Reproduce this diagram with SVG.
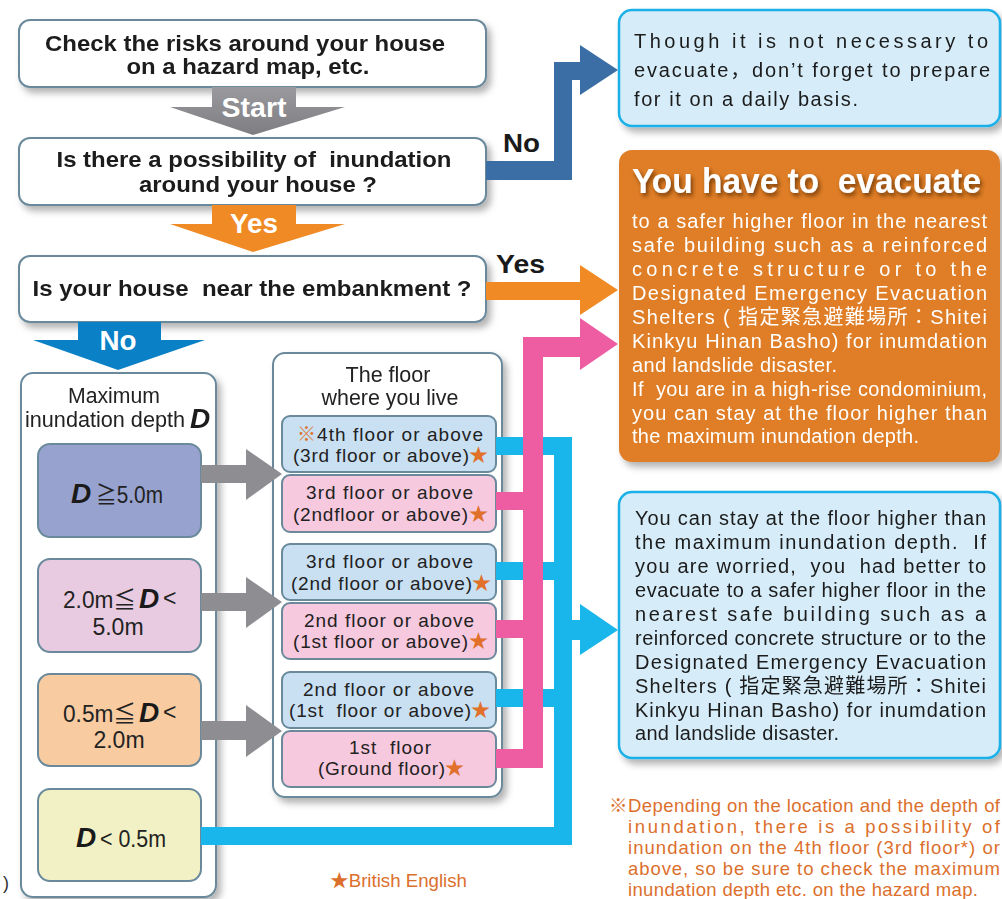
<svg xmlns="http://www.w3.org/2000/svg" width="1002" height="899" viewBox="0 0 1002 899">
<style>
text{font-family:"Liberation Sans","Noto Sans CJK JP",sans-serif;white-space:pre;}
.box{fill:#fff;stroke:#6a8a9c;stroke-width:2;}
.q{font-size:22px;font-weight:bold;fill:#1a1a1a;}
.lbl{font-size:26px;font-weight:bold;fill:#1a1a1a;}
.arrtxt{font-size:28px;font-weight:bold;fill:#fff;}
.fl{font-size:19px;fill:#222;}
.fb{fill:#c9e0f3;stroke:#6a8a9c;stroke-width:2;}
.fp{fill:#f7c9de;stroke:#6a8a9c;stroke-width:2;}
.dtx{font-size:22px;fill:#222;}
.dv{font-size:23px;fill:#222;}
.dd{font-size:28px;font-weight:bold;font-style:italic;fill:#1a1a1a;}
.star{fill:#e0702a;}
.bt{font-size:20px;fill:#1a1a1a;}
.wt{font-size:20px;fill:#fff;}
.note{font-size:18.5px;fill:#dc6f2c;}
.gray{fill:#8d8d92;}
.cy{fill:#18b6ea;}
.pk{fill:#ee5ca2;}
</style>
<defs>
<filter id="sh" x="-10%" y="-10%" width="130%" height="140%">
<feDropShadow dx="4" dy="5" stdDeviation="3.5" flood-color="#000" flood-opacity="0.3"/>
</filter>
<filter id="tsh" filterUnits="userSpaceOnUse" x="620" y="150" width="380" height="60">
<feDropShadow dx="2" dy="3" stdDeviation="2" flood-color="#5a2a00" flood-opacity="0.8"/>
</filter>
<linearGradient id="gStart" x1="0" y1="0" x2="0" y2="1">
<stop offset="0" stop-color="#9a9a9e"/><stop offset="1" stop-color="#7d7d82"/>
</linearGradient>
</defs>

<!-- main flow boxes -->
<g id="n-check" filter="url(#sh)">
<rect class="box" x="19" y="20" width="467" height="67" rx="11"/>
<text class="q" x="245" y="51" text-anchor="middle" textLength="400" lengthAdjust="spacingAndGlyphs">Check the risks around your house</text>
<text class="q" x="248" y="74" text-anchor="middle" textLength="243" lengthAdjust="spacingAndGlyphs">on a hazard map, etc.</text>
</g>
<g id="n-possibility" filter="url(#sh)">
<rect class="box" x="19" y="138" width="467" height="67" rx="11"/>
<text class="q" x="254" y="167" text-anchor="middle" textLength="395" lengthAdjust="spacingAndGlyphs">Is there a possibility of  inundation</text>
<text class="q" x="258" y="192" text-anchor="middle" textLength="238" lengthAdjust="spacingAndGlyphs">around your house ?</text>
</g>
<g id="n-embankment" filter="url(#sh)">
<rect class="box" x="19" y="256" width="467" height="66" rx="11"/>
<text class="q" x="252" y="296" text-anchor="middle" textLength="439" lengthAdjust="spacingAndGlyphs">Is your house  near the embankment ?</text>
</g>

<!-- big down arrows -->
<g id="a-start">
<polygon fill="url(#gStart)" points="212,87 296,87 296,107 345,107 253,135 170,107 212,107"/>
<text class="arrtxt" x="254" y="117" text-anchor="middle" textLength="65" lengthAdjust="spacingAndGlyphs">Start</text>
</g>
<g id="a-yes">
<polygon fill="#f08a24" points="212,205 296,205 296,224 345,224 253,252 170,224 212,224"/>
<text class="arrtxt" x="254" y="233" text-anchor="middle" textLength="48" lengthAdjust="spacingAndGlyphs">Yes</text>
</g>
<g id="a-no">
<polygon fill="#0a80c6" points="78,322 161,322 161,340 205,340 118,370 33,340 78,340"/>
<text class="arrtxt" x="118" y="350" text-anchor="middle" textLength="37" lengthAdjust="spacingAndGlyphs">No</text>
</g>

<!-- left panel: maximum inundation depth -->
<g id="n-depth" filter="url(#sh)">
<rect class="box" x="21" y="373" width="195" height="524" rx="12"/>
<text class="dtx" x="114" y="403" text-anchor="middle" textLength="92" lengthAdjust="spacingAndGlyphs">Maximum</text>
<text class="dtx" x="25" y="427" textLength="160" lengthAdjust="spacingAndGlyphs">inundation depth</text>
<text class="dd" x="190" y="428">D</text>
</g>
<g id="n-d1">
<rect x="38" y="444" width="163" height="93" rx="12" fill="#98a2cf" stroke="#6a8a9c" stroke-width="2"/>
<text class="dd" x="71" y="503">D</text>
<text class="dv" x="96" y="503" textLength="67" lengthAdjust="spacingAndGlyphs">≧5.0m</text>
</g>
<g id="n-d2">
<rect x="38" y="559" width="163" height="93" rx="12" fill="#e8cbe0" stroke="#6a8a9c" stroke-width="2"/>
<text class="dv" x="63" y="608" textLength="73" lengthAdjust="spacingAndGlyphs">2.0m≦</text>
<text class="dd" x="139" y="608">D</text>
<text class="dv" x="163" y="606">&lt;</text>
<text class="dv" x="118" y="635" text-anchor="middle">5.0m</text>
</g>
<g id="n-d3">
<rect x="38" y="674" width="163" height="92" rx="12" fill="#f9cba1" stroke="#6a8a9c" stroke-width="2"/>
<text class="dv" x="63" y="722" textLength="73" lengthAdjust="spacingAndGlyphs">0.5m≦</text>
<text class="dd" x="139" y="722">D</text>
<text class="dv" x="163" y="720">&lt;</text>
<text class="dv" x="119" y="748" text-anchor="middle">2.0m</text>
</g>
<g id="n-d4">
<rect x="38" y="789" width="163" height="92" rx="12" fill="#f1f1c5" stroke="#6a8a9c" stroke-width="2"/>
<text class="dd" x="76" y="847">D</text>
<text class="dv" x="100" y="847" textLength="66" lengthAdjust="spacingAndGlyphs">&lt; 0.5m</text>
</g>

<!-- floor panel -->
<g id="n-floor" filter="url(#sh)">
<rect class="box" x="273" y="353" width="229" height="444" rx="12"/>
<text class="dtx" x="388" y="382" text-anchor="middle" textLength="85" lengthAdjust="spacingAndGlyphs">The floor</text>
<text class="dtx" x="390" y="405" text-anchor="middle" textLength="137" lengthAdjust="spacingAndGlyphs">where you live</text>
</g>
<g id="n-f1">
<rect class="fb" x="282" y="416" width="214" height="56" rx="8"/>
<text class="fl star" x="297" y="441">※</text>
<text class="fl" x="317" y="441" textLength="166" lengthAdjust="spacing">4th floor or above</text>
<text class="fl" x="293" y="462" textLength="176" lengthAdjust="spacing">(3rd floor or above)</text>
<text class="fl star" x="469" y="462">★</text>
</g>
<g id="n-f2">
<rect class="fp" x="282" y="475" width="214" height="57" rx="8"/>
<text class="fl" x="306" y="499" textLength="167" lengthAdjust="spacing">3rd floor or above</text>
<text class="fl" x="293" y="521" textLength="175" lengthAdjust="spacing">(2ndfloor or above)</text>
<text class="fl star" x="469" y="521">★</text>
</g>
<g id="n-f3">
<rect class="fb" x="282" y="544" width="214" height="56" rx="8"/>
<text class="fl" x="306" y="568" textLength="167" lengthAdjust="spacing">3rd floor or above</text>
<text class="fl" x="291" y="590" textLength="181" lengthAdjust="spacing">(2nd floor or above)</text>
<text class="fl star" x="472" y="590">★</text>
</g>
<g id="n-f4">
<rect class="fp" x="282" y="603" width="214" height="56" rx="8"/>
<text class="fl" x="304" y="627" textLength="170" lengthAdjust="spacing">2nd floor or above</text>
<text class="fl" x="293" y="648" textLength="175" lengthAdjust="spacing">(1st floor or above)</text>
<text class="fl star" x="469" y="648">★</text>
</g>
<g id="n-f5">
<rect class="fb" x="282" y="672" width="214" height="56" rx="8"/>
<text class="fl" x="303" y="696" textLength="171" lengthAdjust="spacing">2nd floor or above</text>
<text class="fl" x="289" y="717" textLength="182" lengthAdjust="spacing">(1st  floor or above)</text>
<text class="fl star" x="471" y="717">★</text>
</g>
<g id="n-f6">
<rect class="fp" x="282" y="731" width="214" height="56" rx="8"/>
<text class="fl" x="349" y="754" textLength="82" lengthAdjust="spacing">1st  floor</text>
<text class="fl" x="318" y="775" textLength="127" lengthAdjust="spacing">(Ground floor)</text>
<text class="fl star" x="445" y="775">★</text>
</g>

<!-- right result boxes -->
<g id="n-prepare" filter="url(#sh)">
<rect x="619" y="10" width="381" height="116" rx="13" fill="#d6edf9" stroke="#1ab0e8" stroke-width="2.5"/>
<text class="bt" x="634" y="48" font-size="21" textLength="354" lengthAdjust="spacing">Though it is not necessary to</text>
<text class="bt" x="634" y="77" font-size="21" textLength="356" lengthAdjust="spacing">evacuate，don’t forget to prepare</text>
<text class="bt" x="634" y="106" font-size="21" textLength="224" lengthAdjust="spacing">for it on a daily basis.</text>
</g>
<g id="n-evacuate" filter="url(#sh)">
<rect x="619" y="150" width="381" height="312" rx="13" fill="#df7e26"/>
<text x="632" y="193" font-size="35" font-weight="bold" fill="#fff" filter="url(#tsh)" textLength="349" lengthAdjust="spacingAndGlyphs">You have to  evacuate</text>
<text class="wt" x="632" y="228" textLength="355" lengthAdjust="spacing">to a safer higher floor in the nearest</text>
<text class="wt" x="632" y="252" textLength="355" lengthAdjust="spacing">safe building such as a reinforced</text>
<text class="wt" x="632" y="276" textLength="355" lengthAdjust="spacing">concrete structure or to the</text>
<text class="wt" x="632" y="300" textLength="355" lengthAdjust="spacing">Designated Emergency Evacuation</text>
<text class="wt" x="632" y="324" textLength="355" lengthAdjust="spacing">Shelters ( 指定緊急避難場所：Shitei</text>
<text class="wt" x="632" y="348" textLength="355" lengthAdjust="spacing">Kinkyu Hinan Basho) for inumdation</text>
<text class="wt" x="632" y="372" textLength="205" lengthAdjust="spacing">and landslide disaster.</text>
<text class="wt" x="632" y="396" textLength="355" lengthAdjust="spacing">If  you are in a high-rise condominium,</text>
<text class="wt" x="632" y="420" textLength="355" lengthAdjust="spacing">you can stay at the floor higher than</text>
<text class="wt" x="632" y="443" textLength="287" lengthAdjust="spacing">the maximum inundation depth.</text>
</g>
<g id="n-stay" filter="url(#sh)">
<rect x="619" y="492" width="381" height="266" rx="13" fill="#d6edf9" stroke="#1ab0e8" stroke-width="2.5"/>
<text class="bt" x="635" y="525" textLength="351" lengthAdjust="spacing">You can stay at the floor higher than</text>
<text class="bt" x="635" y="549" textLength="351" lengthAdjust="spacing">the maximum inundation depth.  If</text>
<text class="bt" x="635" y="573" textLength="351" lengthAdjust="spacing">you are worried,  you  had better to</text>
<text class="bt" x="635" y="597" textLength="351" lengthAdjust="spacing">evacuate to a safer higher floor in the</text>
<text class="bt" x="635" y="621" textLength="351" lengthAdjust="spacing">nearest safe building such as a</text>
<text class="bt" x="635" y="645" textLength="351" lengthAdjust="spacing">reinforced concrete structure or to the</text>
<text class="bt" x="635" y="669" textLength="351" lengthAdjust="spacing">Designated Emergency Evacuation</text>
<text class="bt" x="635" y="693" textLength="351" lengthAdjust="spacing">Shelters ( 指定緊急避難場所：Shitei</text>
<text class="bt" x="635" y="717" textLength="351" lengthAdjust="spacing">Kinkyu Hinan Basho) for inumdation</text>
<text class="bt" x="635" y="740" textLength="204" lengthAdjust="spacing">and landslide disaster.</text>
</g>

<!-- connectors -->
<g id="connectors">
<polygon fill="#3a6ea5" points="486,161 554,161 554,62 580,62 580,45 618,70 580,95 580,80 572,80 572,180 486,180"/>
<polygon fill="#f08a24" points="486,282 580,282 580,265 618,290 580,315 580,300 486,300"/>
<g class="gray">
<polygon points="201,465 246,465 246,449 282,474 246,500 246,483 201,483"/>
<polygon points="201,593 246,593 246,577 282,602 246,628 246,611 201,611"/>
<polygon points="201,721 246,721 246,705 282,731 246,757 246,740 201,740"/>
</g>
<g class="cy">
<rect x="554" y="437" width="18" height="408"/>
<rect x="496" y="437" width="76" height="18"/>
<rect x="496" y="562" width="58" height="18"/>
<rect x="496" y="689" width="58" height="18"/>
<rect x="201" y="827" width="371" height="18"/>
<polygon points="572,620 580,620 580,604 618,630 580,655 580,640 572,640"/>
</g>
<g class="pk">
<rect x="523" y="337" width="20" height="431"/>
<rect x="523" y="337" width="57" height="20"/>
<polygon points="580,318 618,344 580,370"/>
<rect x="496" y="492" width="27" height="18"/>
<rect x="496" y="620" width="27" height="18"/>
<rect x="496" y="749" width="27" height="19"/>
</g>
<text class="lbl" x="503" y="152" textLength="37" lengthAdjust="spacingAndGlyphs">No</text>
<text class="lbl" x="496" y="273" textLength="49" lengthAdjust="spacingAndGlyphs">Yes</text>
</g>

<!-- notes -->
<g id="notes">
<text class="note" x="609" y="812" textLength="391" lengthAdjust="spacing">※Depending on the location and the depth of</text>
<text class="note" x="628" y="833" textLength="372" lengthAdjust="spacing">inundation, there is a possibility of</text>
<text class="note" x="628" y="854" textLength="372" lengthAdjust="spacing">inundation on the 4th floor (3rd floor*) or</text>
<text class="note" x="628" y="875" textLength="372" lengthAdjust="spacing">above, so be sure to check the maximum</text>
<text class="note" x="628" y="896" textLength="350" lengthAdjust="spacing">inundation depth etc. on the hazard map.</text>
<text class="note" x="330" y="887" textLength="137" lengthAdjust="spacingAndGlyphs">★British English</text>
<text x="3" y="889" font-size="18" fill="#333">)</text>
</g>
</svg>
